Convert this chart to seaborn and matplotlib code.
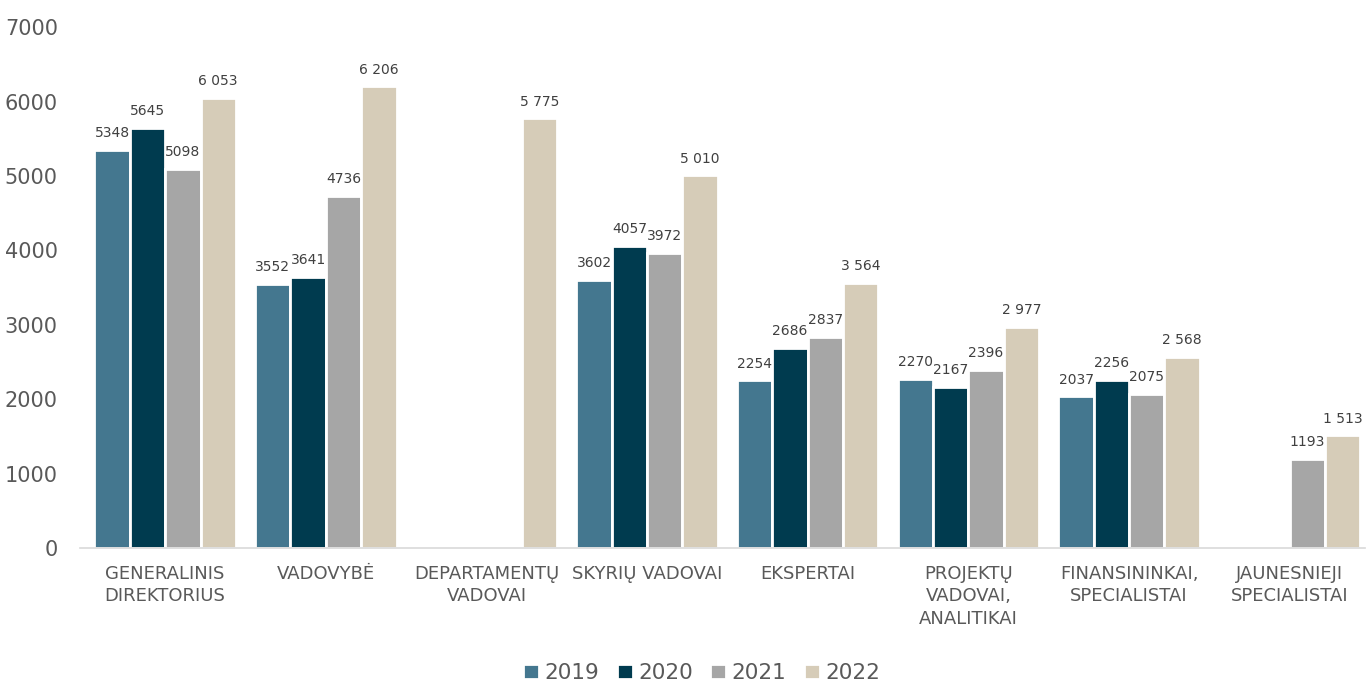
import numpy as np
import pandas as pd
import matplotlib
matplotlib.use("Agg")
import matplotlib.pyplot as plt
import seaborn as sns

categories = ["GENERALINIS\nDIREKTORIUS", "VADOVYBĖ", "DEPARTAMENTŲ\nVADOVAI", "SKYRIŲ VADOVAI",
              "EKSPERTAI", "PROJEKTŲ\nVADOVAI,\nANALITIKAI", "FINANSININKAI,\nSPECIALISTAI",
              "JAUNESNIEJI\nSPECIALISTAI"]
years = ["2019", "2020", "2021", "2022"]
v2019 = [5348, 3552, np.nan, 3602, 2254, 2270, 2037, np.nan]
v2020 = [5645, 3641, np.nan, 4057, 2686, 2167, 2256, np.nan]
v2021 = [5098, 4736, np.nan, 3972, 2837, 2396, 2075, 1193]
v2022 = [6053, 6206, 5775, 5010, 3564, 2977, 2568, 1513]
colors = ["#44778F", "#003B4F", "#A6A6A6", "#D6CCB8"]

rows = []
for y, vals in zip(years, [v2019, v2020, v2021, v2022]):
    for c, v in zip(categories, vals):
        rows.append({"cat": c, "year": y, "val": v})
df = pd.DataFrame(rows).dropna()

sns.set_style("white")
plt.rcParams['font.family'] = ['DejaVu Sans']
txt = "#595959"

fig = plt.figure(figsize=(13.68, 6.84), dpi=100)
ax = fig.add_axes([0.0585, 0.199, 0.9395, 0.761])
sns.barplot(data=df, x="cat", y="val", hue="year", palette=colors, order=categories,
            hue_order=years, width=0.88, saturation=1, edgecolor="white", linewidth=2,
            ax=ax, legend=True)

for i, cont in enumerate(ax.containers):
    patches = [p for p in cont.patches if p is not None]
    for p in patches:
        h = p.get_height()
        if years[i] == "2022":
            lab = f"{int(round(h)):,}".replace(",", " ")
        else:
            lab = str(int(round(h)))
        ax.annotate(lab, (p.get_x() + p.get_width() / 2, h), xytext=(0, 7),
                    textcoords="offset points", ha="center", va="bottom",
                    fontsize=10, color="#404040")

ax.set_ylim(0, 7000)
ax.set_yticks(range(0, 7001, 1000))
ax.set_xlim(-0.53, 7.47)
ax.set_xlabel("")
ax.set_ylabel("")
ax.tick_params(axis="y", labelsize=15, labelcolor=txt, length=0, pad=16)
ax.tick_params(axis="x", labelsize=13, labelcolor=txt, length=0, pad=12)
for lbl in ax.get_xticklabels():
    lbl.set_linespacing(1.35)
for s in ["top", "right", "left"]:
    ax.spines[s].set_visible(False)
ax.spines["bottom"].set_color("#D9D9D9")
ax.spines["bottom"].set_linewidth(1.2)

handles, labels = ax.get_legend_handles_labels()
ax.get_legend().remove()
fig.legend(handles, labels, loc="center", bbox_to_anchor=(0.513, 0.016), ncol=4, frameon=False,
           fontsize=15.5, handlelength=0.75, handleheight=0.75, handletextpad=0.25,
           columnspacing=0.8, labelcolor=txt, borderpad=0)

fig.savefig("out.png", dpi=100)
